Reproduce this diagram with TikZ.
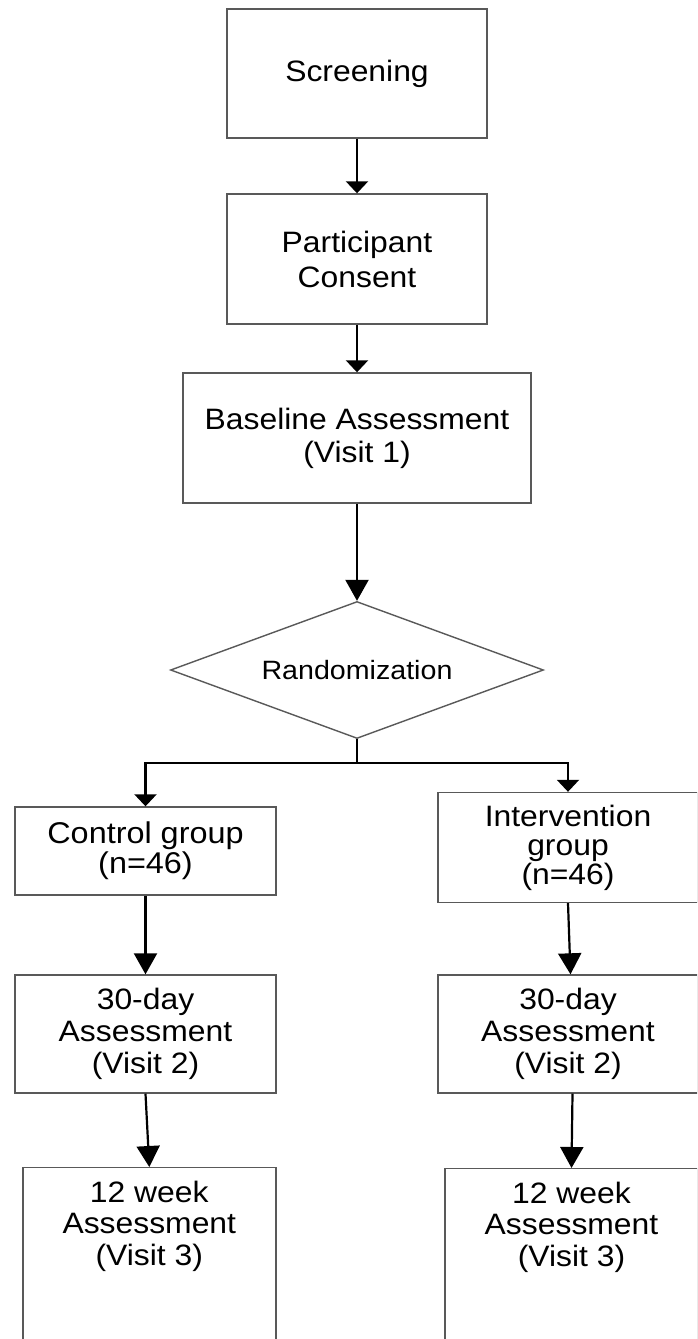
\documentclass[tikz,border=0pt]{standalone}
\usepackage{fontspec}
\setmainfont{Liberation Sans}[FakeStretch=1.08]
\usetikzlibrary{arrows.meta,shapes.geometric}
\definecolor{boxgray}{gray}{0.35}
\begin{document}
\begin{tikzpicture}[x=1pt,y=-1pt,
  box/.style={draw=boxgray, line width=1.4pt, rectangle, align=center, inner sep=0pt,
    minimum width=260pt, font=\fontsize{29.5}{32}\selectfont},
  arr/.style={line width=2.2pt, -{Triangle[width=22pt,length=12pt]}},
  bigarr/.style={line width=2.2pt, -{Triangle[width=23pt,length=21pt]}},
  plain/.style={line width=2.2pt}
]
\useasboundingbox (0,0) rectangle (697,1339);
\fill[white] (0,0) rectangle (697,1339);
\clip (0,0) rectangle (697,1339);

\node[box, minimum height=129pt] (scr) at (357,73.5) {Screening};
\node[box, minimum height=130pt, font=\fontsize{29.5}{35}\selectfont] (con) at (357,259) {Participant\\Consent};
\node[box, minimum width=348pt, minimum height=130pt, font=\fontsize{29.5}{33}\selectfont] (base) at (357,438) {Baseline Assessment\\(Visit 1)};
\node[diamond, aspect=2.72, draw=boxgray, line width=1.4pt, minimum width=373pt, minimum height=137pt,
  inner sep=0pt, font=\fontsize{26.5}{28}\selectfont] (rand) at (357,670) {Randomization};

\node[box, minimum width=261pt, minimum height=88pt, font=\fontsize{30}{30}\selectfont] (ctl) at (145.5,851) {Control group\\(n=46)};
\node[box, minimum height=110pt, font=\fontsize{29.5}{29}\selectfont] (int) at (568,847.5) {Intervention\\group\\(n=46)};

\node[box, minimum width=261pt, minimum height=118pt, font=\fontsize{29.5}{31.7}\selectfont] (l30) at (145.5,1034) {30-day\\Assessment\\(Visit 2)};
\node[box, minimum height=118pt, font=\fontsize{29.5}{31.7}\selectfont] (r30) at (568,1034) {30-day\\Assessment\\(Visit 2)};

\node[box, anchor=north, minimum width=253pt, inner ysep=13pt, font=\fontsize{29.5}{31.7}\selectfont] (l12) at (149.3,1167) {12 week\\Assessment\\(Visit 3)\\\rule{0pt}{120pt}};
\node[box, anchor=north, minimum width=253pt, inner ysep=13pt, font=\fontsize{29.5}{31.7}\selectfont] (r12) at (571.5,1168) {12 week\\Assessment\\(Visit 3)\\\rule{0pt}{120pt}};

\draw[arr] (scr) -- (con);
\draw[arr] (con) -- (base);
\draw[bigarr] (base) -- (rand);
\coordinate (split) at (357,763);
\draw[plain] (rand.south) -- (split);
\draw[arr] (split) -| (ctl.north);
\draw[arr] (split) -| (int.north);
\draw[bigarr] (ctl) -- (l30);
\draw[bigarr] (l30.south) -- (l12.north);
\draw[bigarr] (int.south) -- ([xshift=2.5pt]r30.north);
\draw[bigarr] ([xshift=4.5pt]r30.south) -- (r12.north);
\end{tikzpicture}
\end{document}
